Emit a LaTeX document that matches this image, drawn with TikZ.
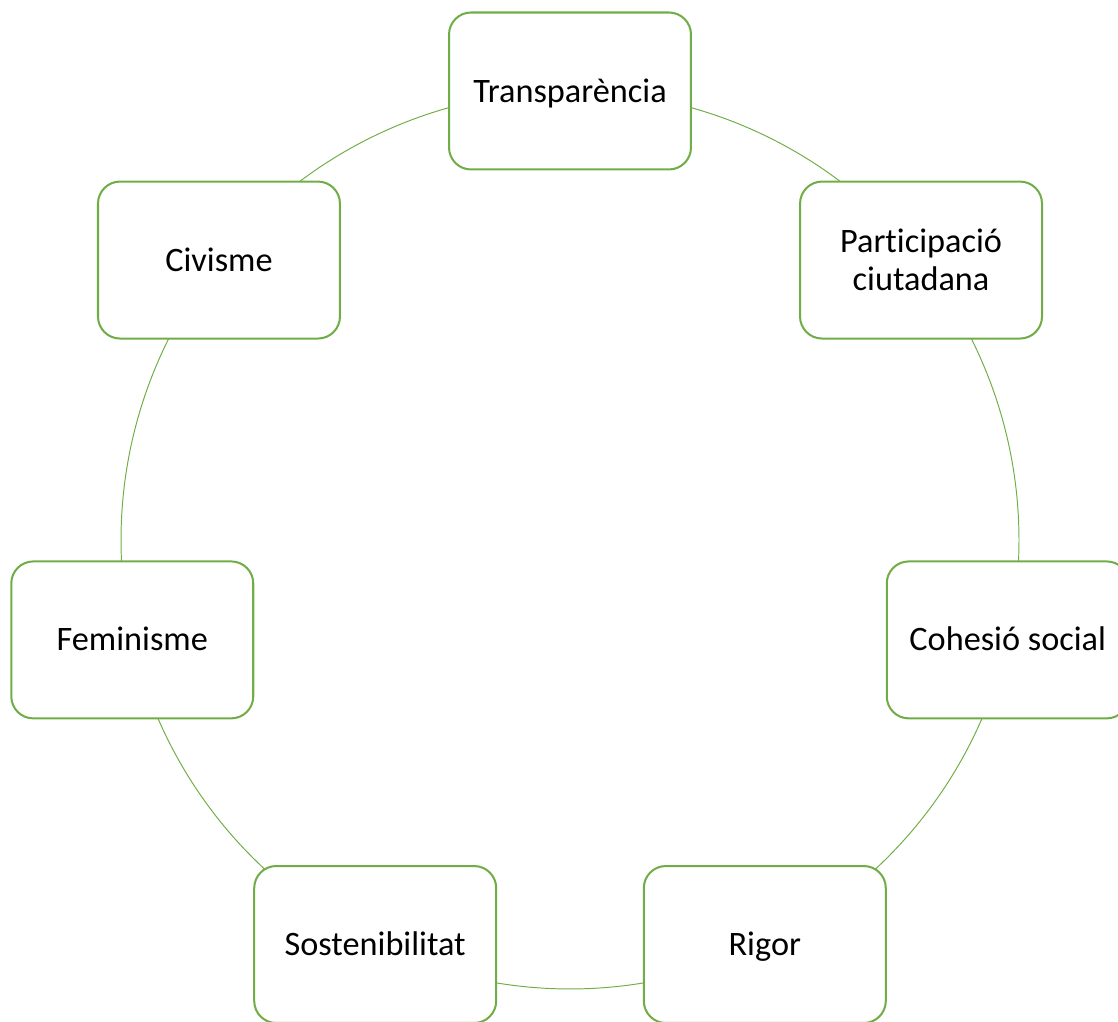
\documentclass[tikz,border=0pt]{standalone}
\usepackage{fontspec}
\setmainfont{Carlito}[Ligatures={NoCommon}]
\usetikzlibrary{backgrounds}
\definecolor{lgreen}{HTML}{70AD47}
\begin{document}
\begin{tikzpicture}[x=0.02cm,y=0.02cm,
  box/.style={draw=lgreen, line width=1.15pt, fill=white, rounded corners=0.44cm,
    minimum width=4.84cm, minimum height=3.14cm, inner sep=0pt, align=center,
    font=\fontsize{19.5pt}{21.4pt}\selectfont},
  oneline/.style={box, text depth=0pt, text height=12.6pt},
  link/.style={draw=lgreen, line width=0.55pt}]
\useasboundingbox (0,0) rectangle (1118,1021);
\clip (0,0) rectangle (1118,1021);
\coordinate (c) at (570,481);
\path (c) ++(90:449) node[oneline] (n1) {Transparència};
\path (c) ++(38.5714:449) node[box] (n2) {Participació\\ciutadana};
\path (c) ++(-12.8571:449) node[oneline] (n3) {Cohesió social};
\path (c) ++(-64.2857:449) node[oneline] (n4) {Rigor};
\path (c) ++(-115.7143:449) node[oneline] (n5) {Sostenibilitat};
\path (c) ++(-167.1429:449) node[oneline] (n6) {Feminisme};
\path (c) ++(141.4286:449) node[oneline] (n7) {Civisme};
\begin{pgfonlayer}{background}
\draw[link] (n1.center) arc[start angle=90, delta angle=-51.4286, radius=449];
\draw[link] (n2.center) arc[start angle=38.5714, delta angle=-51.4286, radius=449];
\draw[link] (n3.center) arc[start angle=-12.8571, delta angle=-51.4286, radius=449];
\draw[link] (n4.center) arc[start angle=-64.2857, delta angle=-51.4286, radius=449];
\draw[link] (n5.center) arc[start angle=-115.7143, delta angle=-51.4286, radius=449];
\draw[link] (n6.center) arc[start angle=-167.1429, delta angle=-51.4286, radius=449];
\draw[link] (n7.center) arc[start angle=141.4286, delta angle=-51.4286, radius=449];
\end{pgfonlayer}
\end{tikzpicture}
\end{document}
